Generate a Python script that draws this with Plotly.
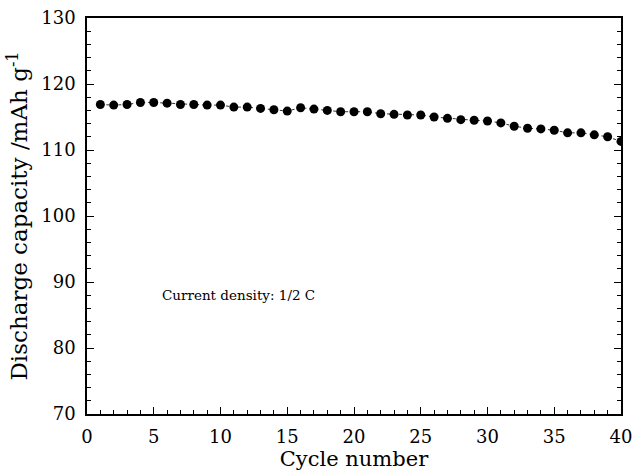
import plotly.graph_objects as go

cycles = list(range(1, 41))
capacity = [116.9, 116.8, 116.9, 117.2, 117.2, 117.1, 116.9, 116.9, 116.8, 116.8,
            116.5, 116.5, 116.3, 116.1, 115.9, 116.4, 116.2, 116.0, 115.8, 115.8,
            115.8, 115.5, 115.4, 115.3, 115.3, 115.0, 114.8, 114.6, 114.5, 114.4,
            114.1, 113.6, 113.3, 113.2, 113.0, 112.6, 112.6, 112.3, 112.0, 111.3]

x_ticks = [0, 5, 10, 15, 20, 25, 30, 35, 40]
y_ticks = [70, 80, 90, 100, 110, 120, 130]

FONT = "DejaVu Serif"

fig = go.Figure()
fig.add_trace(go.Scatter(
    x=cycles, y=capacity, mode="lines+markers",
    line=dict(color="#333333", width=1, dash="dot"),
    marker=dict(color="black", size=9, symbol="circle"),
    cliponaxis=True, showlegend=False,
))

fig.add_annotation(x=5.5, y=88, xref="x", yref="y", text="Current density: 1/2 C",
                   showarrow=False, xanchor="left", yanchor="middle",
                   font=dict(family=FONT, size=13.5, color="black"))

fig.update_layout(
    width=636, height=472,
    margin=dict(l=87, r=15, t=18, b=58),
    paper_bgcolor="white", plot_bgcolor="white",
    font=dict(family=FONT, color="black"),
    xaxis=dict(
        range=[0, 40], tickvals=x_ticks, ticktext=[str(v) for v in x_ticks],
        ticks="inside", ticklen=7, tickwidth=1.2, tickcolor="black",
        minor=dict(dtick=1, ticks="inside", ticklen=4, tickcolor="black", tickwidth=1),
        showline=True, linecolor="black", linewidth=1.5, mirror=True,
        showgrid=False, zeroline=False, automargin=False, ticklabelstandoff=6,
        tickfont=dict(family=FONT, size=18, color="black"),
        title=dict(text="Cycle number", font=dict(family=FONT, size=21, color="black"), standoff=4),
    ),
    yaxis=dict(
        range=[70, 130], tickvals=y_ticks, ticktext=[str(v) for v in y_ticks],
        ticks="inside", ticklen=7, tickwidth=1.2, tickcolor="black",
        minor=dict(dtick=2, ticks="inside", ticklen=4, tickcolor="black", tickwidth=1),
        showline=True, linecolor="black", linewidth=1.5, mirror="ticks",
        showgrid=False, zeroline=False, automargin=False, ticklabelstandoff=6,
        tickfont=dict(family=FONT, size=18, color="black"),
        title=dict(text="Discharge capacity /mAh g<sup>-1</sup>",
                   font=dict(family=FONT, size=23, color="black"), standoff=7),
    ),
)

fig.write_html(
    "out.html",
    config={"displayModeBar": False},
    post_script="document.body.style.margin='0';document.body.style.overflow='hidden';",
)
